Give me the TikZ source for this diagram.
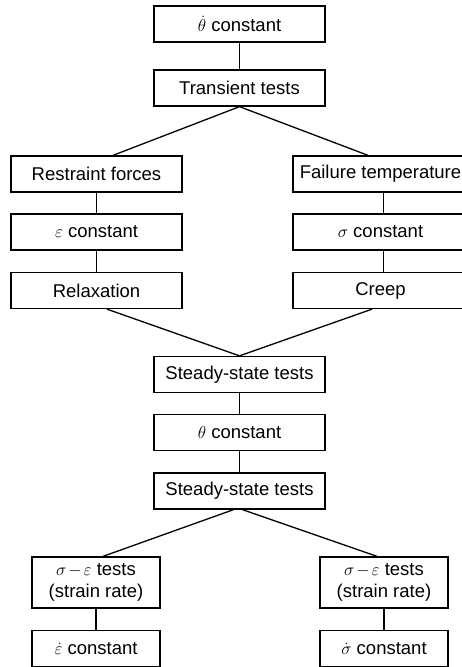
\documentclass[tikz,border=0pt]{standalone}
\usepackage{fontspec}
\setmainfont{Liberation Sans}
\begin{document}
\begin{tikzpicture}[x=1pt,y=-1pt,
  box/.style={draw, line width=1.3pt, minimum height=36pt, inner sep=0pt, align=center,
    font=\fontsize{18.5}{22}\selectfont},
  cbox/.style={box, minimum width=171pt},
  rbox/.style={box, minimum width=175pt},
  sbox/.style={box, minimum width=128pt},
  link/.style={line width=1.3pt}]
\clip (0,0) rectangle (462,667);
\useasboundingbox (0,0) rectangle (462,667);
\node[cbox] (top) at (239.5,24) {$\dot{\theta}$ constant};
\node[cbox] (trans) at (239.5,88) {Transient tests};
\node[cbox] (restr) at (96.5,174) {Restraint forces};
\node[rbox] (fail) at (380.5,174) {Failure temperature};
\node[cbox] (eps) at (96.5,232) {$\varepsilon$ constant};
\node[rbox] (sig) at (380.5,232) {$\sigma$ constant};
\node[cbox] (relax) at (96.5,290.5) {Relaxation};
\node[rbox] (creep) at (380.5,290.5) {Creep};
\node[cbox] (steady) at (239.5,374.5) {Steady-state tests};
\node[cbox] (theta) at (239.5,432.5) {$\theta$ constant};
\node[cbox] (steady2) at (239.5,491) {Steady-state tests};
\node[sbox, minimum height=51pt] (sel) at (96,582.5) {$\sigma\mskip-2mu-\mskip-2mu\varepsilon$ tests\\(strain rate)};
\node[sbox, minimum height=51pt] (ser) at (384,582.5) {$\sigma\mskip-2mu-\mskip-2mu\varepsilon$ tests\\(strain rate)};
\node[sbox] (epsdot) at (96,648.5) {$\dot{\varepsilon}$ constant};
\node[sbox] (sigdot) at (384,648.5) {$\dot{\sigma}$ constant};

\draw[link] (top.south) -- (trans.north);
\draw[link] (trans.south) -- ([xshift=16.5pt]restr.north);
\draw[link] (trans.south) -- ([xshift=-12.5pt]fail.north);
\draw[link] (restr.south) -- (eps.north);
\draw[link] (eps.south) -- (relax.north);
\draw[link] ([xshift=3pt]fail.south) -- ([xshift=3pt]sig.north);
\draw[link] ([xshift=3pt]sig.south) -- ([xshift=3pt]creep.north);
\draw[link] ([xshift=10.5pt]relax.south) -- (steady.north);
\draw[link] ([xshift=-8.5pt]creep.south) -- (steady.north);
\draw[link] (steady.south) -- (theta.north);
\draw[link] (theta.south) -- (steady2.north);
\draw[link] ([xshift=-6pt]steady2.south) -- ([xshift=7pt]sel.north);
\draw[link] ([xshift=3pt]steady2.south) -- ([xshift=-7pt]ser.north);
\draw[link] (sel.south) -- (epsdot.north);
\draw[link] (ser.south) -- (sigdot.north);
\end{tikzpicture}
\end{document}
